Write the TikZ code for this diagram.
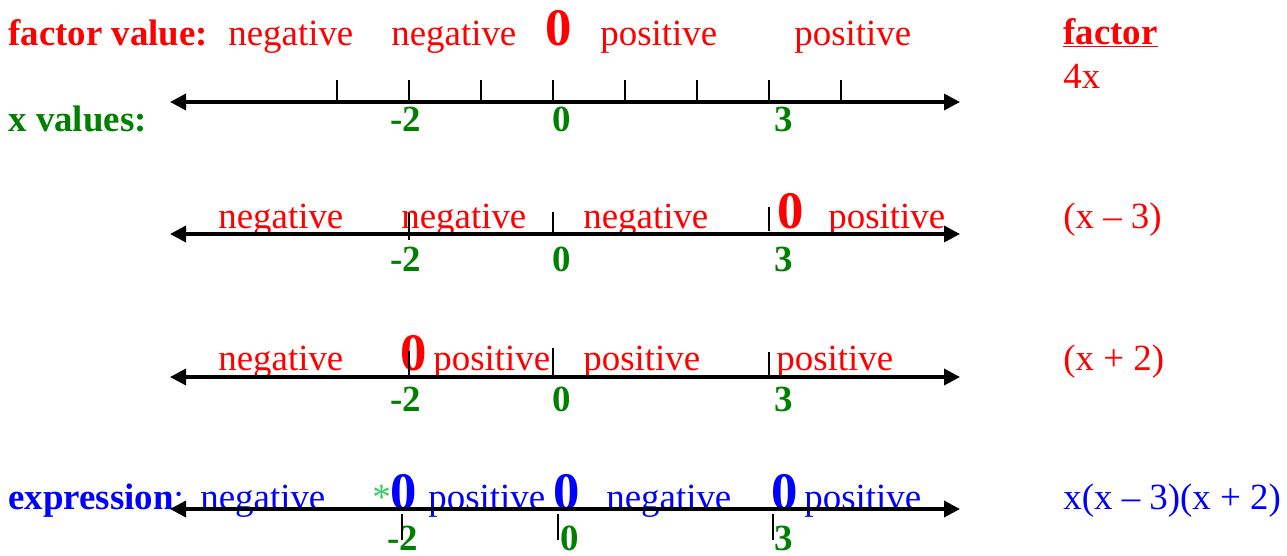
\documentclass[tikz,border=0pt]{standalone}
\usepackage{fontspec}
\setmainfont{Liberation Serif}
\usepackage{xcolor}
\usepackage{tikz}
\usetikzlibrary{arrows.meta}
\definecolor{crojo}{HTML}{FF0000}
\definecolor{cverde}{HTML}{008000}
\definecolor{cazul}{HTML}{0000FF}
\definecolor{cestrella}{HTML}{33CC66}
\tikzset{
  txt/.style={inner sep=0pt, anchor=base west, font=\fontsize{21}{25}\selectfont},
  rojo/.style={txt, text=crojo},
  azul/.style={txt, text=cazul},
  cero/.style={inner sep=0pt, anchor=base west, font=\fontsize{30}{34}\selectfont\bfseries},
  num/.style={inner sep=0pt, anchor=base, text=cverde, font=\fontsize{21}{25}\selectfont\bfseries},
  recta/.style={{Triangle[length=0.32cm,width=0.32cm]}-{Triangle[length=0.32cm,width=0.32cm]}, line width=2pt},
  marca/.style={line width=0.9pt},
}

\begin{document}
\begin{tikzpicture}[x=0.02cm, y=-0.02cm]
  \useasboundingbox (0,0) rectangle (1287,555);
  % fila 1: factor 4x
  \node[rojo, font=\fontsize{21}{25}\selectfont\bfseries] (fv) at (8,45) {factor value:};
  \node[rojo] (f1a) at (228,45) {negative};
  \node[rojo] (f1b) at (391,45) {negative};
  \node[cero, text=crojo] (f1c) at (545,45) {0};
  \node[rojo] (f1d) at (600,45) {positive};
  \node[rojo] (f1e) at (794,45) {positive};
  \node[rojo] (tfac) at (1063,44) {\underline{\textbf{factor}}};
  \node[rojo] (fac1) at (1063,88) {4x};
  \node[txt, text=cverde, font=\fontsize{21}{25}\selectfont\bfseries] (xv) at (8,131) {x values:};
  \node[num] (n1a) at (406,131) {-2};
  \node[num] (n1b) at (562,131) {0};
  \node[num] (n1c) at (784,131) {3};
  % fila 2: factor (x - 3)
  \node[rojo] (f2a) at (218,228) {negative};
  \node[rojo] (f2b) at (401,228) {negative};
  \node[rojo] (f2c) at (583,228) {negative};
  \node[cero, text=crojo] (f2d) at (777,228) {0};
  \node[rojo] (f2e) at (828,228) {positive};
  \node[rojo] (fac2) at (1063,228) {(x – 3)};
  \node[num] (n2a) at (406,271) {-2};
  \node[num] (n2b) at (562,271) {0};
  \node[num] (n2c) at (784,271) {3};
  % fila 3: factor (x + 2)
  \node[rojo] (f3a) at (218,370) {negative};
  \node[cero, text=crojo] (f3b) at (400,370) {0};
  \node[rojo] (f3c) at (433,370) {positive};
  \node[rojo] (f3d) at (583,370) {positive};
  \node[rojo] (f3e) at (776,370) {positive};
  \node[rojo] (fac3) at (1063,370) {(x + 2)};
  \node[num] (n3a) at (406,411) {-2};
  \node[num] (n3b) at (562,411) {0};
  \node[num] (n3c) at (784,411) {3};
  % fila 4: expresion
  \node[azul] (ex) at (8,509) {\textbf{expression}:};
  \node[azul] (f4a) at (200,509) {negative};
  \node[txt, text=cestrella] (est) at (372,509) {*};
  \node[cero, text=cazul] (f4b) at (390,509) {0};
  \node[azul] (f4c) at (428,509) {positive};
  \node[cero, text=cazul] (f4d) at (553,509) {0};
  \node[azul] (f4e) at (606,509) {negative};
  \node[cero, text=cazul] (f4f) at (771,509) {0};
  \node[azul] (f4g) at (804,509) {positive};
  \node[azul] (fac4) at (1063,509) {x(x – 3)(x + 2)};
  \node[num] (n4a) at (403,550) {-2};
  \node[num] (n4b) at (570,550) {0};
  \node[num] (n4c) at (784,550) {3};
  % rectas
  \coordinate (r1i) at (170,102); \coordinate (r1d) at (960,102);
  \coordinate (r2i) at (170,234); \coordinate (r2d) at (960,234);
  \coordinate (r3i) at (170,377); \coordinate (r3d) at (960,377);
  \coordinate (r4i) at (170,509); \coordinate (r4d) at (960,509);
  \draw[recta] (r1i) -- (r1d);
  \draw[recta] (r2i) -- (r2d);
  \draw[recta] (r3i) -- (r3d);
  \draw[recta] (r4i) -- (r4d);
  \foreach \t in {337,409,481,553,625,697,769,841}
    \draw[marca] (\t,80) -- (\t,102);
  \draw[marca] (409,213) -- (409,240);
  \draw[marca] (553,212) -- (553,236);
  \draw[marca] (769,207) -- (769,231);
  \draw[marca] (409,351) -- (409,379);
  \draw[marca] (553,348) -- (553,377);
  \draw[marca] (769,352) -- (769,378);
  \foreach \t in {402,558,773}
    \draw[marca] (\t,514) -- (\t,540);
\end{tikzpicture}
\end{document}
